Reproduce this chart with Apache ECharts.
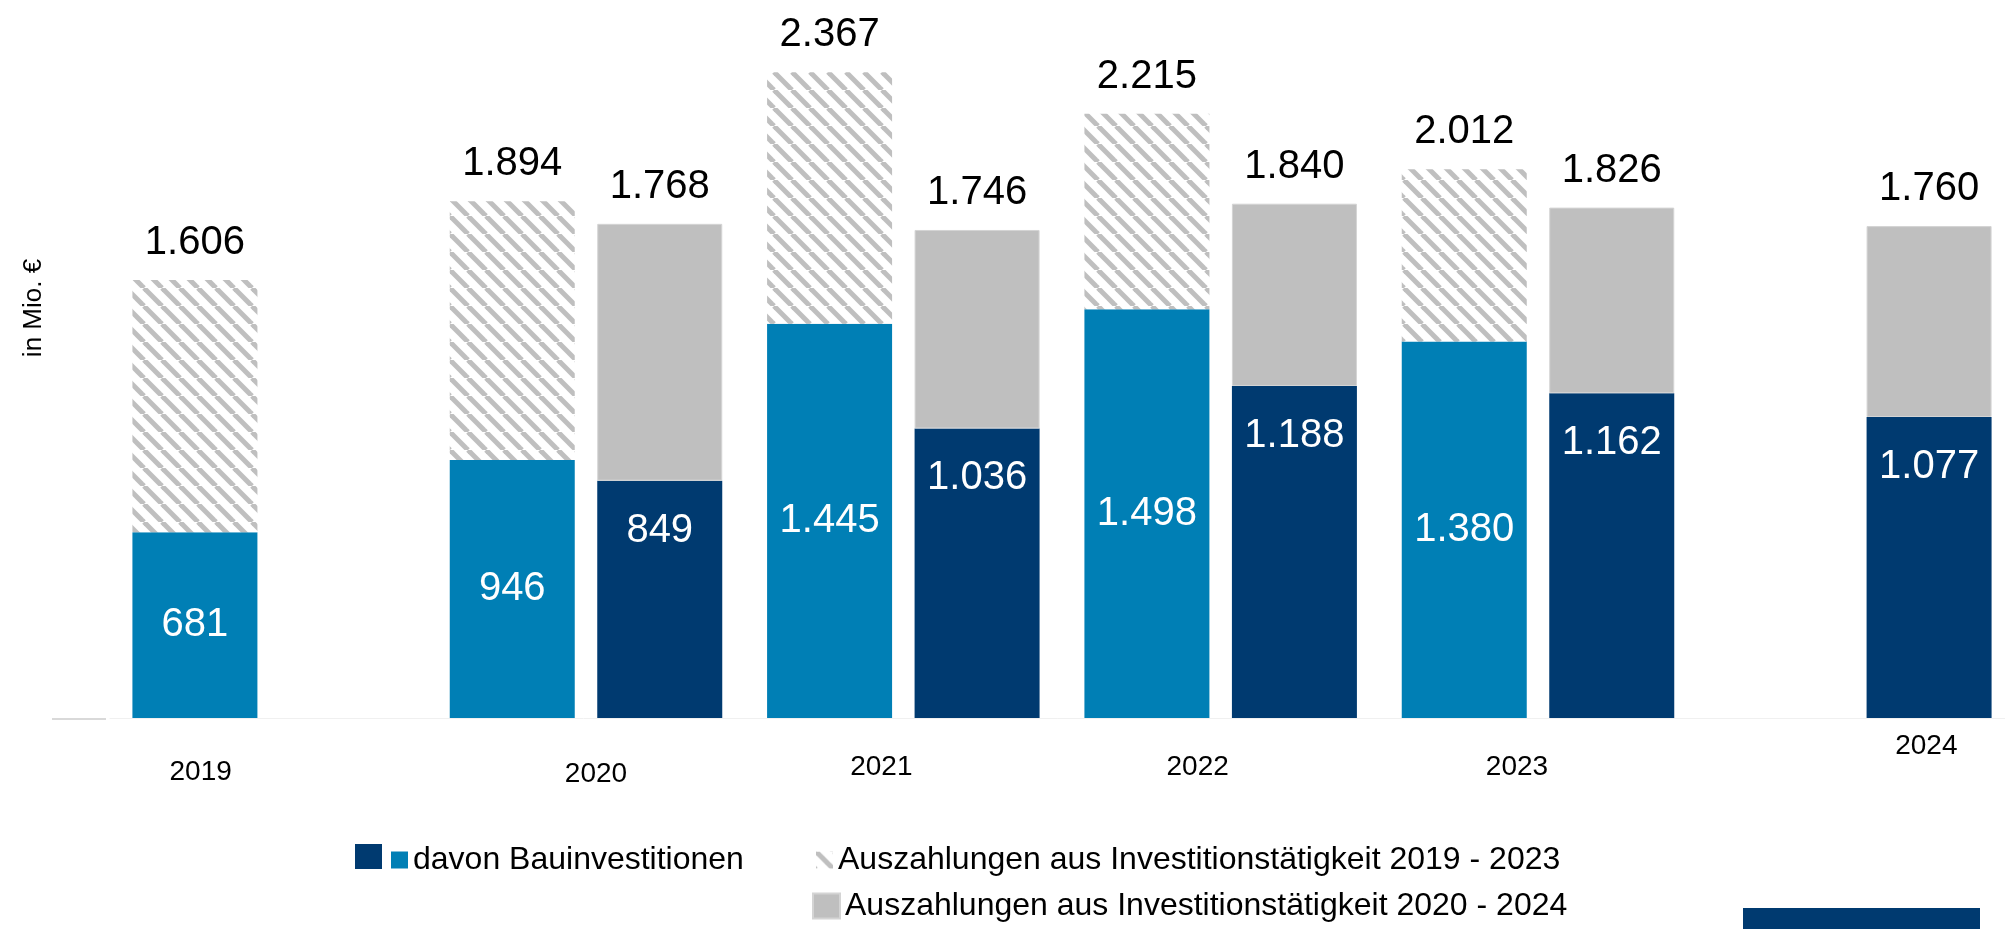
<!DOCTYPE html>
<html>
<head>
<meta charset="utf-8">
<script src="https://cdn.jsdelivr.net/npm/echarts@6/dist/echarts.min.js"></script>
<style>
  html, body { margin: 0; padding: 0; background: #fff; }
  #invest { width: 2005px; height: 929px; }
</style>
</head>
<body>
<div id="invest"></div>
<script>
// Daten in Mio. €
const years = ['2019', '2020', '2021', '2022', '2023', '2024']
// Finanzplanung 2019 - 2023
const total1923 = [1606, 1894, 2367, 2215, 2012, null]
const bau1923 = [681, 946, 1445, 1498, 1380, null]
// Finanzplanung 2020 - 2024
const total2024 = [null, 1768, 1746, 1840, 1826, 1760]
const bau2024 = [null, 849, 1036, 1188, 1162, 1077]

const nameBau = 'davon Bauinvestitionen'
const nameBau2 = 'davon Bauinvestitionen 2020 - 2024'
const nameAus1 = 'Auszahlungen aus Investitionstätigkeit 2019 - 2023'
const nameAus2 = 'Auszahlungen aus Investitionstätigkeit 2020 - 2024'

const blue = '#007fb5'
const navy = '#003a70'
const grey = '#bfbfbf'
const font = 'Liberation Sans, Arial, sans-serif'

// 1.606 statt 1606
function fmt (v) {
  if (v == null) return ''
  if (v < 1000) return String(v)
  return Math.floor(v / 1000) + '.' + String(v % 1000).padStart(3, '0')
}

function rest (tot, part) {
  return tot.map((t, i) => (t == null ? null : t - part[i]))
}

// schraffur für die Planung 2019 - 2023
function hatch () {
  const c = document.createElement('canvas')
  c.width = 18
  c.height = 18
  const ctx = c.getContext('2d')
  ctx.fillStyle = '#ffffff'
  ctx.fillRect(0, 0, 18, 18)
  ctx.strokeStyle = grey
  ctx.lineWidth = 5
  ;[-18, 0, 18].forEach(dx => {
    ctx.beginPath()
    ctx.moveTo(dx, 0)
    ctx.lineTo(dx + 18, 18)
    ctx.stroke()
  })
  return c
}

// Jahreslabels sitzen im Original nicht mittig
const labelPad = [[26, 136, 0, 0], [28, 0, 0, 20], [21, 44, 0, 0], [21, 46, 0, 0], [21, 42, 0, 0], [0, 0, 0, 142]]

const legendText = { fontSize: 32, color: '#000', fontFamily: font }

let myChart = echarts.init(document.getElementById('invest'))
myChart.setOption({
  animation: false,
  textStyle: { fontFamily: font },
  grid: {
    left: 110,
    right: -9,
    top: 36,
    bottom: 211,
    containLabel: false,
    outerBoundsMode: 'none'
  },
  legend: [
    {
      data: [{ name: nameBau2, icon: 'rect' }], left: 355, top: 844, padding: 0,
      itemWidth: 27, itemHeight: 25, formatter: () => '',
      textStyle: legendText
    },
    {
      data: [{ name: nameBau, icon: 'rect' }], left: 391, top: 844, padding: 0,
      itemWidth: 17, itemHeight: 17, textStyle: legendText
    },
    {
      data: [{ name: nameAus1, icon: 'rect' }], left: 816, top: 844, padding: 0,
      itemWidth: 17, itemHeight: 17, textStyle: legendText
    },
    {
      data: [{ name: nameAus2, icon: 'rect' }], left: 812, top: 890, padding: 0,
      itemWidth: 27, itemHeight: 25, textStyle: legendText
    }
  ],
  xAxis: {
    type: 'category',
    data: years.map((y, i) => ({ value: y, textStyle: { padding: labelPad[i] } })),
    axisLine: { lineStyle: { color: '#f0f0f0', width: 1 } },
    axisTick: { show: false },
    axisLabel: { interval: 0, margin: 14, fontSize: 28, color: '#000' }
  },
  yAxis: [
    {
      type: 'value',
      min: 0,
      max: 2500,
      name: 'in Mio. €',
      nameLocation: 'middle',
      nameRotate: 90,
      nameGap: 63,
      nameTextStyle: { fontSize: 26, color: '#000', padding: [0, 0, 0, 138] },
      axisLine: { show: false },
      axisTick: { show: false },
      axisLabel: { show: false },
      splitLine: { show: false }
    },
    {
      type: 'value',
      min: 0,
      max: 2440,
      show: false
    }
  ],
  series: [
    {
      name: nameBau,
      type: 'bar',
      stack: 'p1923',
      yAxisIndex: 0,
      barWidth: 125,
      barGap: '18%',
      data: bau1923,
      itemStyle: { color: blue },
      label: { show: true, position: 'inside', fontSize: 40, color: '#fff', formatter: p => fmt(p.value) }
    },
    {
      name: nameAus1,
      type: 'bar',
      stack: 'p1923',
      yAxisIndex: 0,
      barWidth: 125,
      data: rest(total1923, bau1923),
      itemStyle: { color: { image: hatch(), repeat: 'repeat' } },
      label: { show: true, position: 'top', distance: 17, fontSize: 40, color: '#000', formatter: p => fmt(total1923[p.dataIndex]) }
    },
    {
      name: nameBau2,
      type: 'bar',
      stack: 'p2024',
      yAxisIndex: 1,
      barWidth: 125,
      data: bau2024,
      itemStyle: { color: navy },
      label: { show: true, position: 'insideTop', distance: 30, fontSize: 40, color: '#fff', formatter: p => fmt(p.value) }
    },
    {
      name: nameAus2,
      type: 'bar',
      stack: 'p2024',
      yAxisIndex: 1,
      barWidth: 125,
      data: rest(total2024, bau2024),
      itemStyle: { color: grey, borderColor: '#d4d4d4', borderWidth: 1 },
      label: { show: true, position: 'top', distance: 17, fontSize: 40, color: '#000', formatter: p => fmt(total2024[p.dataIndex]) }
    }
  ],
  graphic: [
    { type: 'line', shape: { x1: 52, y1: 719, x2: 106, y2: 719 }, style: { stroke: '#d9d9d9', lineWidth: 2 } },
    { type: 'rect', shape: { x: 1743, y: 908, width: 237, height: 30 }, style: { fill: navy } }
  ]
})
</script>
</body>
</html>
